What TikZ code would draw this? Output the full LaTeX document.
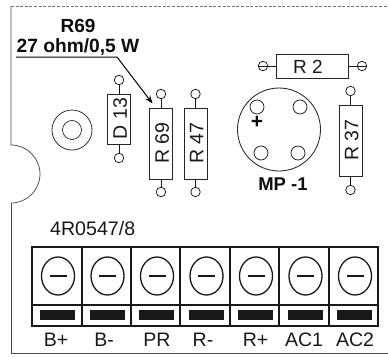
\documentclass[tikz,border=0pt]{standalone}
\usepackage{fontspec}
\setmainfont{Liberation Sans}
\usetikzlibrary{arrows.meta,shapes.geometric}
\tikzset{
  lbl/.style={inner sep=0pt,text=black!90,font=\fontsize{#1}{#1}\selectfont},
  lblb/.style={inner sep=0pt,text=black!95,font=\fontsize{#1}{#1}\selectfont\bfseries},
  part/.style={draw=black!85,line width=0.9pt,inner sep=0pt,rectangle},
  pad/.style={draw=black!90,line width=0.75pt,circle,inner sep=0pt,minimum size=9.5pt},
  wire/.style={draw=black!90,line width=0.9pt},
  edge/.style={draw=black!70,line width=0.75pt},
  screw/.style={draw=black!90,line width=1.3pt,ellipse,inner sep=0pt},
  cell/.style={draw=black!90,line width=1.6pt},
}
% vertical part: name, x, y centre, height, top pad y, bottom pad y, text
\newcommand{\vpart}[7]{
  \node[part,minimum width=23pt,minimum height=#4pt] (#1) at (#2,#3) {};
  \node[lbl=19.5,rotate=90] (#1t) at (#2+1.2,#3-0.5) {#7};
  \node[pad] (#1a) at (#2,#5) {};
  \node[pad] (#1b) at (#2,#6) {};
  \draw[wire] (#1a) -- (#1.north);
  \draw[wire] (#1b) -- (#1.south);
}
\newcommand{\term}[2]{% index, x left
  \node[screw,minimum width=33pt,minimum height=38pt] (s#1) at (#2+26,276) {};
  \coordinate (ml#1) at (#2+17.5,276);
  \coordinate (mr#1) at (#2+34.5,276);
  \draw[line width=1.6pt,black!90] (ml#1) -- (mr#1);
  \node[fill=black!90,minimum width=35pt,minimum height=10pt,inner sep=0pt] (b#1) at (#2+25.5,315) {};
}
\begin{document}
\begin{tikzpicture}[x=1pt,y=-1pt]
\useasboundingbox (0,0) rectangle (388,356);
% board outline
\coordinate (tl) at (11,6);
\coordinate (tr) at (388,6);
\coordinate (n1) at (11,145);
\coordinate (n2) at (11,203);
\coordinate (bl) at (11,353);
\coordinate (br) at (388,353);
\draw[edge,black!55,dash pattern=on 3pt off 1.6pt] (tl) -- (tr);
\draw[edge] (tl) -- (n1) arc[start angle=-90,end angle=90,radius=29];
\draw[edge] (n2) -- (bl) -- (br);
% callout
\node[lblb=19] (t1) at (78,26) {R69};
\node[lblb=19.2] (t2) at (78,47.5) {27 ohm/0,5 W};
\coordinate (c0) at (16,57);
\coordinate (c1) at (117,57);
% parts
\vpart{d}{119}{119}{50}{80}{158}{D 13}
\vpart{rs}{161}{143.5}{71}{94}{192}{R 69}
\vpart{rf}{195.5}{143.5}{71}{94}{192}{R 47}
\vpart{rt}{350.5}{140.5}{71}{91}{190}{R 37}
\coordinate (c2) at (152.5,103.5);
\draw[wire,draw=black,line width=1pt,-{Stealth[length=8pt,width=6pt]}] (c0) -- (c1) -- (c2);
% washer
\node[draw=black!85,line width=0.75pt,circle,minimum size=40pt,inner sep=0pt] (w1) at (72,130) {};
\node[draw=black!85,line width=0.75pt,circle,minimum size=19pt,inner sep=0pt] (w2) at (72,130) {};
% R2
\node[part,minimum width=72pt,minimum height=24pt] (rh) at (312,66) {};
\node[lbl=19] (rht) at (308,67) {R 2};
\node[pad] (rha) at (263,66) {};
\node[pad] (rhb) at (362,66) {};
\draw[wire] (rha.west) -- (rh.west);
\draw[wire] (rhb.east) -- (rh.east);
% MP
\node[draw=black!85,line width=0.85pt,circle,minimum size=83pt,inner sep=0pt] (mp) at (279,129.5) {};
\node[pad,minimum size=14pt] (m1) at (257,107) {};
\node[pad,minimum size=14pt] (m2) at (300,107) {};
\node[pad,minimum size=14pt] (m3) at (261,153) {};
\node[pad,minimum size=14pt] (m4) at (298,153) {};
\node[lblb=21] (pl) at (257,122) {+};
\node[lblb=18.5] (mpt) at (283,184) {MP -1};
% terminals
\node[lbl=19.6,anchor=west] (code) at (50,228) {4R0547/8};
\coordinate (ba) at (32,247);
\coordinate (bb) at (378,326);
\coordinate (da) at (32,305);
\coordinate (db) at (378,305);
\draw[cell] (ba) rectangle (bb);
\draw[cell] (da) -- (db);
\foreach \x in {82,131,180,230,279,329}{
  \draw[cell] (\x,247) -- (\x,326);
}
\term{1}{32}
\term{2}{81.5}
\term{3}{131}
\term{4}{180.5}
\term{5}{230}
\term{6}{279.5}
\term{7}{329}
\node[lbl=19.5] (l1) at (56,340) {B+};
\node[lbl=19.5] (l2) at (104,340) {B-};
\node[lbl=19.5] (l3) at (157,340) {PR};
\node[lbl=19.5] (l4) at (203,340) {R-};
\node[lbl=19.5] (l5) at (255.5,340) {R+};
\node[lbl=19.5] (l6) at (304,340) {AC1};
\node[lbl=19.5] (l7) at (355,340) {AC2};
\end{tikzpicture}
\end{document}
